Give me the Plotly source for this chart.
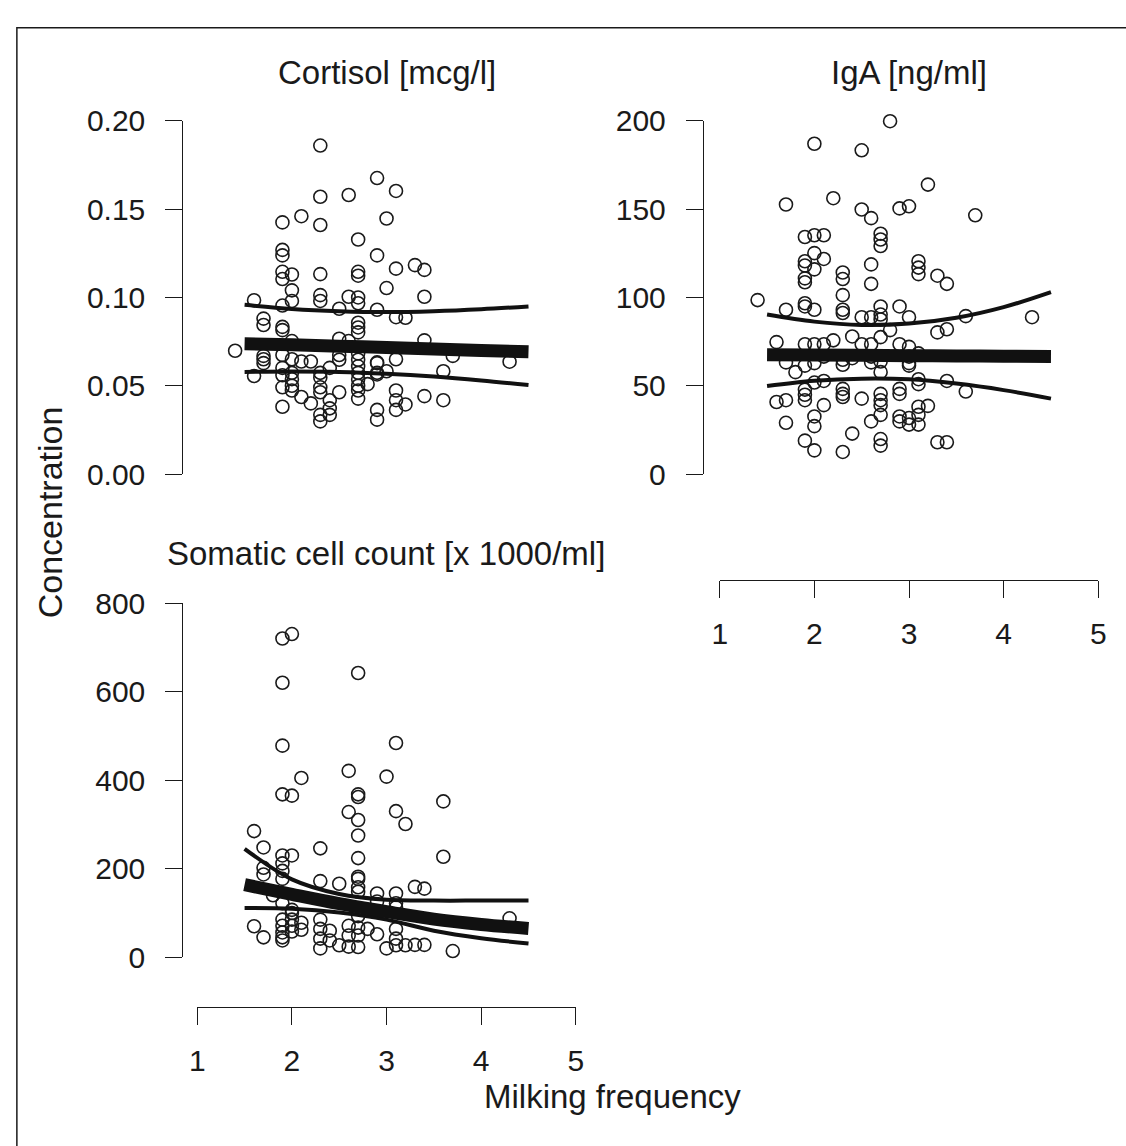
import plotly.graph_objects as go

W, H = 1126, 1146

# ---------------- data ----------------
cort_x = [2.3, 2.9, 2.3, 2.6, 1.9, 2.1, 2.3, 3.0, 2.7, 1.9, 1.9, 2.9, 1.9, 1.9, 2.0, 2.3, 2.7, 2.7,
          3.0, 2.0, 2.3, 2.3, 2.6, 2.7, 2.7, 2.0, 1.6, 1.9, 2.5, 2.9, 1.7, 1.7, 1.9, 1.9, 2.7, 2.7,
          2.7, 1.4, 2.5, 2.6, 2.0, 1.7, 1.7, 1.7, 1.9, 2.0, 2.1, 2.2, 2.5, 2.5, 2.7, 2.7, 2.7, 2.9,
          1.6, 1.9, 1.9, 2.0, 2.3, 2.3, 2.4, 2.7, 2.7, 2.7, 2.7, 2.9, 2.0, 2.0, 1.9, 2.0, 2.1, 2.2,
          2.3, 2.3, 2.5, 2.4, 2.4, 2.4, 2.3, 2.3, 1.9, 2.7, 2.8, 2.9, 2.9, 3.3, 3.1, 3.1, 3.3, 3.4,
          3.4, 3.1, 3.2, 3.4, 3.7, 4.3, 3.1, 2.9, 2.9, 3.0, 3.6, 3.1, 3.1, 3.1, 3.2, 3.4, 3.6]
cort_y = [0.186, 0.1676, 0.157, 0.158, 0.1425, 0.146, 0.141, 0.1447, 0.1328, 0.1269, 0.1238, 0.1238,
          0.1145, 0.1104, 0.113, 0.1132, 0.1145, 0.1123, 0.1053, 0.104, 0.1013, 0.098, 0.1004, 0.1,
          0.0967, 0.098, 0.0984, 0.0954, 0.0936, 0.093, 0.088, 0.0844, 0.0833, 0.0815, 0.0857, 0.083,
          0.0802, 0.0698, 0.0766, 0.0753, 0.0753, 0.0669, 0.065, 0.0628, 0.0674, 0.065, 0.0637, 0.0637,
          0.0674, 0.0647, 0.0683, 0.0647, 0.061, 0.0632, 0.0555, 0.0601, 0.0559, 0.0573, 0.0573, 0.0546,
          0.0601, 0.0573, 0.0537, 0.05, 0.0473, 0.0573, 0.0537, 0.05, 0.0491, 0.0473, 0.0436, 0.04,
          0.0491, 0.0463, 0.0463, 0.0418, 0.0372, 0.0335, 0.0335, 0.0298, 0.0381, 0.0427, 0.0509, 0.0363,
          0.0308, 0.2044, 0.1603, 0.1163, 0.1183, 0.1156, 0.1004, 0.0888, 0.0885, 0.0757, 0.0669, 0.0636,
          0.065, 0.0628, 0.0564, 0.0582, 0.0582, 0.0473, 0.0418, 0.0363, 0.0394, 0.0441, 0.0418]

iga_x = [2.8, 2.0, 2.5, 1.7, 2.2, 2.5, 2.6, 2.9, 3.0, 1.9, 2.0, 2.1, 2.0, 2.1, 1.9, 1.9, 2.0, 1.9, 1.9,
         2.7, 2.7, 2.7, 2.6, 2.6, 2.3, 2.3, 2.3, 1.4, 1.9, 1.9, 1.7, 2.0, 2.3, 2.3, 2.7, 2.9, 2.5, 2.6,
         2.7, 2.7, 2.8, 3.0, 1.6, 1.9, 2.0, 2.1, 2.2, 2.4, 2.5, 2.6, 2.7, 2.9, 1.7, 1.8, 1.9, 2.0, 2.1,
         2.3, 2.3, 2.4, 2.6, 2.6, 2.7, 2.7, 3.0, 3.0, 2.0, 2.1, 1.9, 1.9, 1.9, 2.3, 2.3, 2.3, 2.5, 2.7,
         2.7, 2.7, 2.7, 2.9, 2.9, 1.6, 1.7, 2.1, 2.0, 2.0, 1.7, 2.6, 2.9, 2.9, 2.4, 1.9, 2.0, 2.3, 2.7,
         2.7, 3.2, 3.7, 3.1, 3.1, 3.1, 3.3, 3.4, 3.6, 4.3, 3.3, 3.4, 3.0, 3.0, 3.1, 3.1, 3.1, 3.4, 3.6,
         3.1, 3.1, 3.1, 3.2, 3.3, 3.4, 3.0, 3.0]
iga_y = [199.8, 187, 183.3, 152.6, 156.2, 149.8, 144.9, 150.4, 151.6, 134.2, 135.2, 135.2, 125.1, 121.8,
         120.5, 118.1, 115.9, 110.8, 108.6, 136.1, 132.8, 129.1, 118.7, 107.7, 114.1, 110.4, 101.3, 98.5,
         96.7, 94.9, 93, 93, 93, 91.2, 94.9, 94.9, 88.8, 88.8, 90.3, 87.5, 81.5, 88.8, 74.7, 73.5, 73.5,
         73.5, 75.7, 77.9, 73.5, 73.5, 77.5, 73.5, 63.2, 57.7, 61.4, 62.8, 66.5, 64.7, 61.9, 65.6, 66.5,
         63.2, 63.7, 57.7, 66.5, 61.4, 51.8, 52.7, 47.8, 44.9, 41.8, 48.2, 45.4, 43.6, 42.7, 45.4, 41.8,
         39.0, 33.5, 48.2, 45.4, 40.8, 41.8, 39.0, 32.6, 27.1, 29.0, 29.8, 32.6, 29.8, 22.9, 18.9, 13.4,
         12.5, 19.8, 16.1, 163.9, 146.5, 120.5, 116.9, 113.2, 112.3, 107.7, 89.4, 88.8, 80.2, 82.0, 72.0,
         62.8, 68.3, 53.7, 50.9, 52.7, 46.7, 38.1, 33.5, 28.0, 38.6, 18.0, 18.0, 31.7, 28.0]

scc_x = [1.9, 2.0, 1.9, 2.7, 1.9, 3.1, 2.1, 2.6, 3.0, 1.9, 2.0, 2.7, 2.7, 2.6, 2.7, 3.1, 3.2, 2.7, 2.7,
         1.6, 1.7, 1.9, 2.0, 2.3, 2.7, 1.7, 1.7, 1.9, 1.9, 1.9, 1.8, 2.3, 2.5, 2.7, 2.9, 3.1, 1.9, 2.0,
         2.0, 1.6, 1.7, 1.9, 1.9, 1.9, 1.9, 1.9, 2.0, 2.0, 2.0, 2.1, 2.1, 2.3, 2.3, 2.3, 2.3, 2.4, 2.4,
         2.5, 2.6, 2.6, 2.6, 2.7, 2.7, 2.7, 2.7, 2.7, 2.8, 2.9, 2.9, 3.0, 3.1, 3.1, 3.1, 3.1, 3.1, 3.6,
         3.6, 3.3, 3.4, 4.3, 3.2, 3.3, 3.4, 3.7, 2.7]
scc_y = [720, 730, 620, 642, 478, 484, 405, 421, 408, 368, 365, 368, 362, 328, 310, 330, 301, 275, 224,
         285, 248, 230, 230, 246, 182, 202, 187, 212, 195, 177, 140, 172, 166, 158, 144, 144, 122, 107,
         100, 70, 45, 85, 71, 56, 45, 38, 85, 71, 58, 78, 62, 85, 64, 42, 20, 60, 38, 27, 71, 49, 24, 93,
         67, 49, 23, 148, 64, 52, 126, 20, 64, 42, 27, 122, 113, 352, 227, 159, 155, 88, 27, 28, 28, 14, 177]

# fitted curves (read at x = 1.5 ... 4.5)
fit_x = [1.5, 2.0, 2.5, 3.0, 3.5, 4.0, 4.5]
cort_fit = [0.0738, 0.0732, 0.0724, 0.0716, 0.0708, 0.0700, 0.0692]
cort_up = [0.0958, 0.0935, 0.0922, 0.0917, 0.0922, 0.0933, 0.0949]
cort_lo = [0.0578, 0.0580, 0.0578, 0.0568, 0.0552, 0.0530, 0.0504]
iga_fit = [67.6, 67.4, 67.2, 67.0, 66.9, 66.7, 66.6]
iga_up = [90.3, 86.3, 84.4, 85.2, 88.5, 94.5, 103.0]
iga_lo = [49.8, 52.8, 54.0, 53.6, 51.2, 47.5, 42.7]
scc_fit = [164, 142, 121, 103, 86, 74, 65]
scc_up = [245, 176, 143, 130, 128, 128, 128]
scc_lo = [111, 109.5, 101, 85, 60, 43, 31]

cort_ticks = [0, 0.05, 0.10, 0.15, 0.20]
cort_ticktext = ["0.00", "0.05", "0.10", "0.15", "0.20"]
iga_ticks = [0, 50, 100, 150, 200]
scc_ticks = [0, 200, 400, 600, 800]
x_ticks = [1, 2, 3, 4, 5]

titles = ["Cortisol [mcg/l]", "IgA [ng/ml]", "Somatic cell count [x 1000/ml]"]

# ---------------- figure ----------------
FONT = "Liberation Sans, Arial, Helvetica, sans-serif"
INK = "#1a1a1a"

def px(v):
    return v / W

def py(v):
    return 1 - v / H

fig = go.Figure()

panels = [
    ("x", "y", cort_x, cort_y, cort_fit, cort_up, cort_lo),
    ("x2", "y2", iga_x, iga_y, iga_fit, iga_up, iga_lo),
    ("x3", "y3", scc_x, scc_y, scc_fit, scc_up, scc_lo),
]

for xa, ya, xs, ys, fit, up, lo in panels:
    fig.add_trace(go.Scatter(
        x=xs, y=ys, mode="markers", xaxis=xa, yaxis=ya, cliponaxis=False,
        marker=dict(symbol="circle", size=13, color="rgba(0,0,0,0)",
                    line=dict(color=INK, width=1.6)),
        hoverinfo="skip", showlegend=False))
    for ser, wd in ((up, 4), (lo, 4), (fit, 13)):
        fig.add_trace(go.Scatter(
            x=fit_x, y=ser, mode="lines", xaxis=xa, yaxis=ya,
            line=dict(color="#111111", width=wd, shape="spline", smoothing=1.0),
            hoverinfo="skip", showlegend=False))

axis_common = dict(showgrid=False, zeroline=False, linecolor=INK, linewidth=1.4,
                   tickcolor=INK, tickwidth=1.4, ticklen=17, ticks="outside",
                   tickfont=dict(family=FONT, size=30, color=INK))

top_dom = [py(471), py(107)]
bot_dom = [py(969), py(604)]
left_xdom = [px(192), px(576)]
right_xdom = [px(722), px(1106)]

fig.update_layout(
    autosize=True, margin=dict(l=0, r=0, t=0, b=0, pad=0),
    paper_bgcolor="white", plot_bgcolor="rgba(0,0,0,0)",
    xaxis=dict(domain=left_xdom, range=[1, 5], visible=False, anchor="y"),
    yaxis=dict(domain=top_dom, range=[0, 0.2], anchor="free", position=px(177),
               showline=True, tickvals=cort_ticks, ticktext=cort_ticktext,
               ticklabelstandoff=14, **axis_common),
    xaxis2=dict(domain=right_xdom, range=[1, 5], anchor="free", position=py(580),
                showline=True, tickvals=x_ticks, ticktext=[str(v) for v in x_ticks],
                ticklabelstandoff=10, **axis_common),
    yaxis2=dict(domain=top_dom, range=[0, 200], anchor="free", position=px(705),
                showline=True, tickvals=iga_ticks, ticktext=[str(v) for v in iga_ticks],
                ticklabelstandoff=14, **axis_common),
    xaxis3=dict(domain=left_xdom, range=[1, 5], anchor="free", position=py(1020),
                showline=True, tickvals=x_ticks, ticktext=[str(v) for v in x_ticks],
                ticklabelstandoff=10, **axis_common),
    yaxis3=dict(domain=bot_dom, range=[0, 800], anchor="free", position=px(177),
                showline=True, tickvals=scc_ticks, ticktext=[str(v) for v in scc_ticks],
                ticklabelstandoff=14, **axis_common),
)

title_pos = [(384, 57), (914, 57), (383, 553)]
for t, (tx, ty) in zip(titles, title_pos):
    fig.add_annotation(text=t, x=px(tx), y=py(ty), xref="paper", yref="paper",
                       showarrow=False, xanchor="center", yanchor="middle",
                       font=dict(family=FONT, size=33, color=INK))

fig.add_annotation(text="Concentration", x=px(42), y=py(510), xref="paper", yref="paper",
                   showarrow=False, textangle=-90, xanchor="center", yanchor="middle",
                   font=dict(family=FONT, size=34, color=INK))
fig.add_annotation(text="Milking frequency", x=px(613), y=py(1113), xref="paper", yref="paper",
                   showarrow=False, xanchor="center", yanchor="middle",
                   font=dict(family=FONT, size=33, color=INK))

# outer frame (left and top edges visible; right/bottom fall outside the page)
fig.add_shape(type="rect", xref="paper", yref="paper",
              x0=px(9), x1=1.05, y0=-0.05, y1=py(11),
              line=dict(color=INK, width=1.5), fillcolor="rgba(0,0,0,0)")

fig.write_html(
    "out.html",
    default_width="100vw", default_height="100vh",
    config={"displayModeBar": False, "responsive": True},
    post_script="document.documentElement.style.margin='0';"
                "document.body.style.margin='0';"
                "document.body.style.overflow='hidden';",
)
